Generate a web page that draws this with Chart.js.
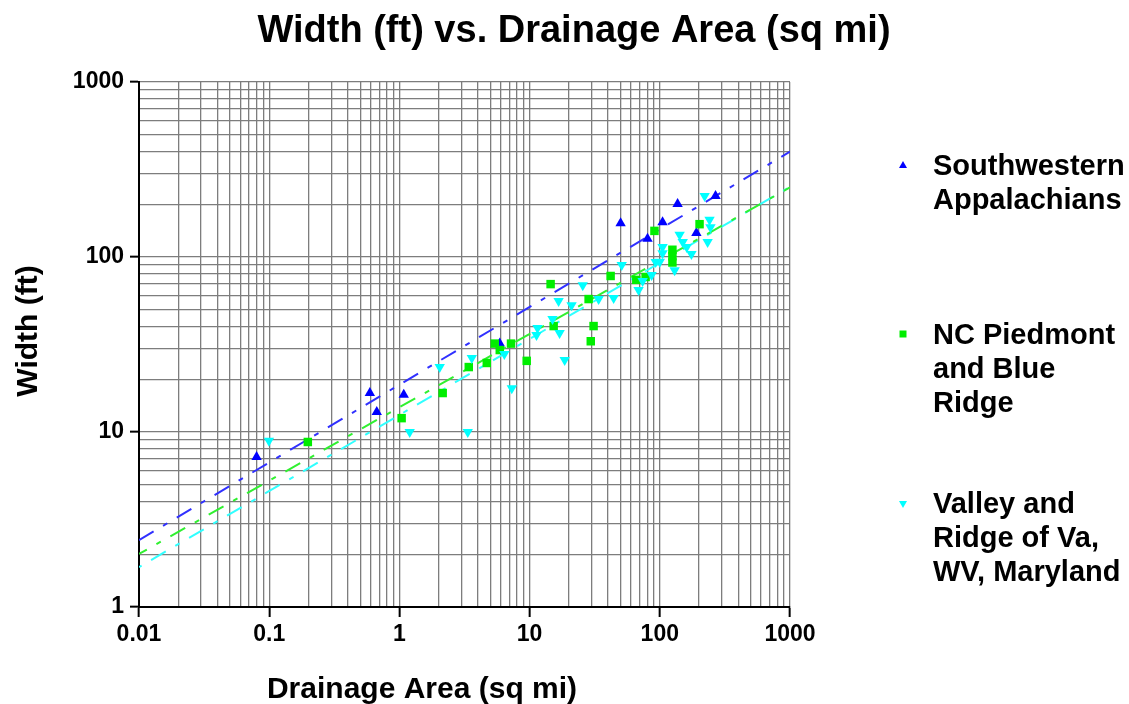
<!DOCTYPE html>
<html>
<head>
<meta charset="utf-8">
<script src="https://cdn.jsdelivr.net/npm/chart.js@4"></script>
<style>
  html, body { margin:0; padding:0; background:#fff; }
  #wrap { width:1129px; height:704px; }
</style>
</head>
<body>
<div id="wrap"><canvas id="chart" width="1129" height="704"></canvas></div>
<script>
// Données (aire drainée en sq mi, largeur en ft)
const swX = [0.080, 0.593, 0.67, 1.08, 5.9, 50, 80.5, 105, 137, 191, 268];
const swY = [7.2, 16.7, 13.0, 16.3, 32, 156, 127, 158, 201, 137, 223];

const ncX = [0.198, 1.04, 2.15, 3.41, 4.69, 5.4, 5.9, 7.2, 9.5, 14.5, 15.3, 28.4, 29.5, 31, 41.9, 66, 77.8, 91, 125, 125, 125, 202];
const ncY = [8.77, 12.0, 16.7, 23.5, 24.8, 32, 29.4, 32, 25.5, 70, 40.3, 57.5, 33, 40.3, 77.9, 74, 76.9, 141, 110, 101, 93, 154];

const vrX = [0.0995, 1.2, 2.04, 3.35, 3.6, 6.4, 7.3, 11.3, 11.5, 15.0, 17.0, 18.6, 16.7, 21, 25.6, 33.9, 44.2, 51, 68.7, 73.8, 86.5, 93, 100, 105, 105, 130, 142, 150, 161, 175, 221, 241, 245, 233];
const vrY = [8.9, 10.0, 23.5, 10.0, 26.5, 27.9, 17.8, 35.8, 39.3, 44.2, 36.8, 25.8, 56, 53, 69, 57.5, 58.3, 90, 64.8, 73, 79, 93.6, 94, 105, 114, 84, 134, 122, 114, 104, 223, 163, 148, 122];

// Droites de régression : valeurs aux deux extrémités de l'axe
const trendX     = [0.01, 1000];
const swTrendY   = [2.41, 400];
const ncTrendY   = [2.01, 250];
const vrTrendY   = [1.69, 252];

// Libellés des axes
const xTickLabels = ['0.01', '0.1', '1', '10', '100', '1000'];
const yTickLabels = ['1', '10', '100', '1000'];
const xDecades = [-2, -1, 0, 1, 2];
const yDecades = [0, 1, 2];

const TITLE  = 'Width (ft) vs. Drainage Area (sq mi)';
const XTITLE = 'Drainage Area (sq mi)';
const YTITLE = 'Width (ft)';
const LEGEND = [
  { lines:['Southwestern', 'Appalachians'],           color:'#0000ff', shape:'up'   },
  { lines:['NC Piedmont', 'and Blue', 'Ridge'],        color:'#00ee00', shape:'rect' },
  { lines:['Valley and', 'Ridge of Va,', 'WV, Maryland'], color:'#00ffff', shape:'down' },
];

const FONT_FAMILY = '"Liberation Sans", Arial, Helvetica, sans-serif';

const pts = (xs, ys) => xs.map((x, i) => ({ x, y: ys[i] }));
const isMajor = v => Math.abs(Math.log10(v) - Math.round(Math.log10(v))) < 1e-6;
const logTicks = (decades) => {
  const t = [];
  decades.forEach(d => { for (let m = 1; m <= 9; m++) t.push({ value: m * Math.pow(10, d) }); });
  t.push({ value: Math.pow(10, decades[decades.length - 1] + 1) });
  return t;
};

// Textes (titre, titres d'axes, légende) dessinés à la main
const textPlugin = {
  id: 'texts',
  afterDraw(chart) {
    const ctx = chart.ctx;
    ctx.save();
    ctx.fillStyle = '#000';
    ctx.textBaseline = 'alphabetic';

    ctx.font = 'bold 38px ' + FONT_FAMILY;
    ctx.textAlign = 'center';
    ctx.fillText(TITLE, 574, 42);

    ctx.font = 'bold 30px ' + FONT_FAMILY;
    ctx.fillText(XTITLE, 422, 698);

    ctx.save();
    ctx.translate(37, 331);
    ctx.rotate(-Math.PI / 2);
    ctx.fillText(YTITLE, 0, 0);
    ctx.restore();

    // légende
    const tops = [175, 344, 513];
    const marks = [165, 334, 504];
    ctx.font = 'bold 29px ' + FONT_FAMILY;
    ctx.textAlign = 'left';
    LEGEND.forEach((item, i) => {
      item.lines.forEach((l, j) => ctx.fillText(l, 933, tops[i] + j * 34));
      const cx = 903, cy = marks[i];
      ctx.fillStyle = item.color;
      ctx.beginPath();
      if (item.shape === 'up') { ctx.moveTo(cx, cy - 4); ctx.lineTo(cx + 4, cy + 3); ctx.lineTo(cx - 4, cy + 3); }
      else if (item.shape === 'down') { ctx.moveTo(cx, cy + 4); ctx.lineTo(cx + 4, cy - 3); ctx.lineTo(cx - 4, cy - 3); }
      else { ctx.rect(cx - 3.5, cy - 3.5, 7, 7); }
      ctx.closePath();
      ctx.fill();
      ctx.fillStyle = '#000';
    });
    ctx.restore();
  }
};

const GRID = '#7d7d7d';
const DASH = [17, 11, 5, 11];

new Chart(document.getElementById('chart'), {
  type: 'scatter',
  data: {
    datasets: [
      { label:'Valley and Ridge of Va, WV, Maryland', data: pts(vrX, vrY), pointStyle:'triangle', rotation:180, pointRadius:6, backgroundColor:'#00ffff', borderColor:'#00ffff', borderWidth:0 },
      { label:'NC Piedmont and Blue Ridge', data: pts(ncX, ncY), pointStyle:'rect', pointRadius:6, backgroundColor:'#00ee00', borderColor:'#00ee00', borderWidth:0 },
      { label:'Southwestern Appalachians', data: pts(swX, swY), pointStyle:'triangle', pointRadius:6, backgroundColor:'#0000ff', borderColor:'#0000ff', borderWidth:0 },
      { data: pts(trendX, swTrendY), showLine:true, pointRadius:0, borderColor:'#3030ff', borderWidth:2, borderDash:DASH, fill:false },
      { data: pts(trendX, ncTrendY), showLine:true, pointRadius:0, borderColor:'#30f030', borderWidth:2, borderDash:DASH, borderDashOffset:8, fill:false },
      { data: pts(trendX, vrTrendY), showLine:true, pointRadius:0, borderColor:'#30ffff', borderWidth:2, borderDash:DASH, borderDashOffset:30, fill:false },
    ]
  },
  options: {
    responsive: false,
    animation: false,
    layout: { padding: { left:0, right:339, top:82, bottom:0 } },
    plugins: { legend:{ display:false }, tooltip:{ enabled:false }, title:{ display:false } },
    scales: {
      x: {
        type: 'logarithmic', min: 0.01, max: 1000,
        afterBuildTicks: s => { s.ticks = logTicks(xDecades); },
        afterFit: s => { s.height = 97; },
        border: { display:true, color:'#000', width:2 },
        grid: {
          color: GRID, lineWidth: 1.3, tickLength: 10,
          tickColor: c => (c.tick && isMajor(c.tick.value)) ? '#000' : 'rgba(0,0,0,0)',
          tickWidth: 2
        },
        ticks: {
          autoSkip:false, maxRotation:0, padding:4, color:'#000',
          font:{ family:FONT_FAMILY, size:23, weight:'bold' },
          callback: v => isMajor(v) ? xTickLabels[Math.round(Math.log10(v)) + 2] : ''
        }
      },
      y: {
        type: 'logarithmic', min: 1, max: 1000,
        afterBuildTicks: s => { s.ticks = logTicks(yDecades); },
        afterFit: s => { s.width = 139; },
        border: { display:true, color:'#000', width:2 },
        grid: {
          color: GRID, lineWidth: 1.3, tickLength: 9,
          tickColor: c => (c.tick && isMajor(c.tick.value)) ? '#000' : 'rgba(0,0,0,0)',
          tickWidth: 2
        },
        ticks: {
          autoSkip:false, padding:6, color:'#000',
          font:{ family:FONT_FAMILY, size:23, weight:'bold' },
          callback: v => isMajor(v) ? yTickLabels[Math.round(Math.log10(v))] : ''
        }
      }
    }
  },
  plugins: [textPlugin]
});
</script>
</body>
</html>
